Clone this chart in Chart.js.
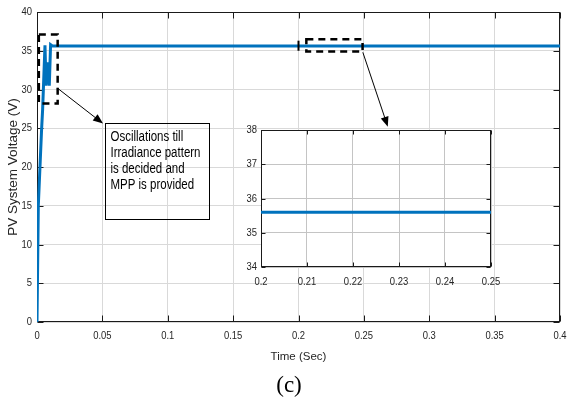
<!DOCTYPE html>
<html lang="en">
<head>
<meta charset="UTF-8">
<title>PV System Voltage</title>
<style>
  html, body { margin: 0; padding: 0; background: #fff; }
  #wrap { position: relative; width: 567px; height: 401px; }
  #main { position: absolute; left: 0; top: 0; }
  #inset { position: absolute; left: 236px; top: 118px; }
</style>
</head>
<body>
<div id="wrap">
  <canvas id="main" width="567" height="401"></canvas>
  <canvas id="inset" width="275" height="180"></canvas>
</div>
<script src="https://cdn.jsdelivr.net/npm/chart.js"></script>
<script>
// values
const timeSec = [0, 0.001, 0.0035, 0.0043, 0.0061, 0.0069, 0.0081, 0.0094, 0.0104, 0.012, 0.2, 0.4];
const voltage = [0, 15, 24.8, 27.4, 35.7, 30.5, 33.5, 30.5, 35.8, 35.6, 35.6, 35.6];

const xTicks = [0, 0.05, 0.1, 0.15, 0.2, 0.25, 0.3, 0.35, 0.4];
const yTicks = [0, 5, 10, 15, 20, 25, 30, 35, 40];
const insetXTicks = [0.2, 0.21, 0.22, 0.23, 0.24, 0.25];
const insetYTicks = [34, 35, 36, 37, 38];

const noteLines = ['Oscillations till', 'Irradiance pattern', 'is decided and', 'MPP is provided'];

const SANS = '"Liberation Sans", Arial, sans-serif';
const SQUEEZE = 0.82;   // the source figure is squashed sideways
const BLUE = '#0072BD';
Chart.defaults.font.family = SANS;
Chart.defaults.color = '#262626';

const points = timeSec.map((t, i) => ({x: t, y: voltage[i]}));
const fmt = v => String(+v.toFixed(3));

function setTicks(list) {
  return s => { s.ticks = list.map(v => ({value: v})); };
}

function narrowText(ctx, s, x, y, align) {
  ctx.save();
  ctx.translate(x, y);
  ctx.scale(SQUEEZE, 1);
  ctx.textAlign = align;
  ctx.fillText(s, 0, 0);
  ctx.restore();
}

// box, inward tick marks and tick labels, matlab style
const frame = {
  id: 'frame',
  beforeDatasetsDraw(chart, args, opts) {
    const {ctx, chartArea: a, scales: {x, y}} = chart;
    const L = opts.tick;
    const l = Math.round(a.left) + 0.5, r = Math.round(a.right) - 0.5;
    const t = Math.round(a.top) + 0.5, b = Math.round(a.bottom) - 0.5;
    ctx.save();
    ctx.strokeStyle = '#1a1a1a';
    ctx.lineWidth = 1;
    ctx.beginPath();
    x.ticks.forEach(tk => {
      const px = Math.round(x.getPixelForValue(tk.value)) + 0.5;
      ctx.moveTo(px, b); ctx.lineTo(px, b - L);
      ctx.moveTo(px, t); ctx.lineTo(px, t + L);
    });
    y.ticks.forEach(tk => {
      const py = Math.round(y.getPixelForValue(tk.value)) + 0.5;
      ctx.moveTo(l, py); ctx.lineTo(l + L, py);
      ctx.moveTo(r, py); ctx.lineTo(r - L, py);
    });
    ctx.stroke();
    ctx.strokeRect(l, t, r - l, b - t);

    ctx.fillStyle = '#262626';
    ctx.font = '11.5px ' + SANS;
    ctx.textBaseline = 'middle';
    x.ticks.forEach(tk => narrowText(ctx, fmt(tk.value), x.getPixelForValue(tk.value), a.bottom + opts.xGap, 'center'));
    y.ticks.forEach(tk => narrowText(ctx, fmt(tk.value), a.left - opts.yGap, y.getPixelForValue(tk.value), 'right'));
    ctx.restore();
  }
};

const whiteArea = {
  id: 'whiteArea',
  beforeDraw(chart) {
    const {ctx, chartArea: a} = chart;
    ctx.save();
    ctx.fillStyle = '#fff';
    ctx.fillRect(a.left, a.top, a.right - a.left, a.bottom - a.top);
    ctx.restore();
  }
};

function arrow(ctx, x1, y1, x2, y2) {
  const ang = Math.atan2(y2 - y1, x2 - x1);
  const len = 10, half = 4;
  ctx.beginPath();
  ctx.moveTo(x1, y1);
  ctx.lineTo(x2 - Math.cos(ang) * len * 0.8, y2 - Math.sin(ang) * len * 0.8);
  ctx.stroke();
  ctx.beginPath();
  ctx.moveTo(x2, y2);
  ctx.lineTo(x2 - Math.cos(ang) * len - Math.sin(ang) * half, y2 - Math.sin(ang) * len + Math.cos(ang) * half);
  ctx.lineTo(x2 - Math.cos(ang) * len + Math.sin(ang) * half, y2 - Math.sin(ang) * len - Math.cos(ang) * half);
  ctx.closePath();
  ctx.fill();
}

const notes = {
  id: 'notes',
  afterDraw(chart) {
    const {ctx, scales: {x, y}} = chart;
    const X = v => x.getPixelForValue(v), Y = v => y.getPixelForValue(v);
    ctx.save();
    ctx.strokeStyle = '#000';
    ctx.fillStyle = '#000';

    // dashed boxes
    ctx.lineWidth = 2.5;
    ctx.setLineDash([7, 5]);
    ctx.strokeRect(X(0.0014), Y(37.1), X(0.0158) - X(0.0014), Y(28.2) - Y(37.1));
    ctx.strokeRect(X(0.206), Y(36.5), X(0.249) - X(0.206), Y(34.9) - Y(36.5));
    ctx.setLineDash([]);

    // small marker where zoom starts
    ctx.lineWidth = 2;
    ctx.beginPath();
    ctx.moveTo(X(0.2), Y(36.3));
    ctx.lineTo(X(0.2), Y(35.0));
    ctx.stroke();

    // arrows
    ctx.lineWidth = 1;
    arrow(ctx, X(0.0158), Y(30.15), X(0.0505), Y(25.6));
    arrow(ctx, X(0.2492), Y(34.8), X(0.2683), Y(25.2));

    // text box
    const bl = Math.round(X(0.0521)) + 0.5, bt = Math.round(Y(25.7)) + 0.5;
    const br = Math.round(X(0.1312)) + 0.5, bb = Math.round(Y(13.3)) + 0.5;
    ctx.strokeRect(bl, bt, br - bl, bb - bt);
    ctx.font = '14px ' + SANS;
    ctx.textBaseline = 'middle';
    noteLines.forEach((s, i) => narrowText(ctx, s, bl + 5, bt + 14 + i * 16, 'left'));

    // caption
    ctx.font = '23px "Liberation Serif", "Times New Roman", serif';
    ctx.textAlign = 'center';
    ctx.fillText('(c)', 289, 386);
    ctx.restore();
  }
};

new Chart(document.getElementById('main'), {
  type: 'line',
  data: {
    datasets: [{
      label: 'PV System Voltage',
      data: points,
      borderColor: BLUE,
      borderWidth: 3,
      pointRadius: 0,
      tension: 0
    }]
  },
  options: {
    responsive: false,
    animation: false,
    layout: {padding: {left: 0, top: 12, right: 7, bottom: 0}},
    plugins: {
      legend: {display: false},
      tooltip: {enabled: false},
      frame: {tick: 6, xGap: 14, yGap: 5}
    },
    scales: {
      x: {
        type: 'linear',
        min: 0, max: 0.4,
        afterBuildTicks: setTicks(xTicks),
        afterFit: s => { s.height = 79; s.paddingLeft = 0; s.paddingRight = 0; },
        grid: {color: '#d9d9d9', drawTicks: false},
        border: {display: false},
        ticks: {display: false},
        title: {display: true, text: 'Time (Sec)', font: {size: 11.5}, padding: {top: 0, bottom: 37}}
      },
      y: {
        min: 0, max: 40,
        afterBuildTicks: setTicks(yTicks),
        afterFit: s => { s.width = 37; s.paddingTop = 0; s.paddingBottom = 0; },
        grid: {color: '#d9d9d9', drawTicks: false},
        border: {display: false},
        ticks: {display: false},
        title: {display: true, text: 'PV System Voltage (V)', font: {size: 13.5}, padding: {top: 5, bottom: 0}}
      }
    }
  },
  plugins: [frame, notes]
});

new Chart(document.getElementById('inset'), {
  type: 'line',
  data: {
    datasets: [{
      label: 'PV System Voltage (zoom)',
      data: points,
      borderColor: BLUE,
      borderWidth: 3,
      pointRadius: 0,
      tension: 0
    }]
  },
  options: {
    responsive: false,
    animation: false,
    layout: {padding: {left: 0, top: 12, right: 20, bottom: 0}},
    plugins: {
      legend: {display: false},
      tooltip: {enabled: false},
      frame: {tick: 4, xGap: 15, yGap: 4}
    },
    scales: {
      x: {
        type: 'linear',
        min: 0.2, max: 0.25,
        afterBuildTicks: setTicks(insetXTicks),
        afterFit: s => { s.height = 31; s.paddingLeft = 0; s.paddingRight = 0; },
        grid: {color: '#c4c4c4', drawTicks: false},
        border: {display: false},
        ticks: {display: false}
      },
      y: {
        min: 34, max: 38,
        afterBuildTicks: setTicks(insetYTicks),
        afterFit: s => { s.width = 25; s.paddingTop = 0; s.paddingBottom = 0; },
        grid: {color: '#c4c4c4', drawTicks: false},
        border: {display: false},
        ticks: {display: false}
      }
    }
  },
  plugins: [whiteArea, frame]
});
</script>
</body>
</html>
